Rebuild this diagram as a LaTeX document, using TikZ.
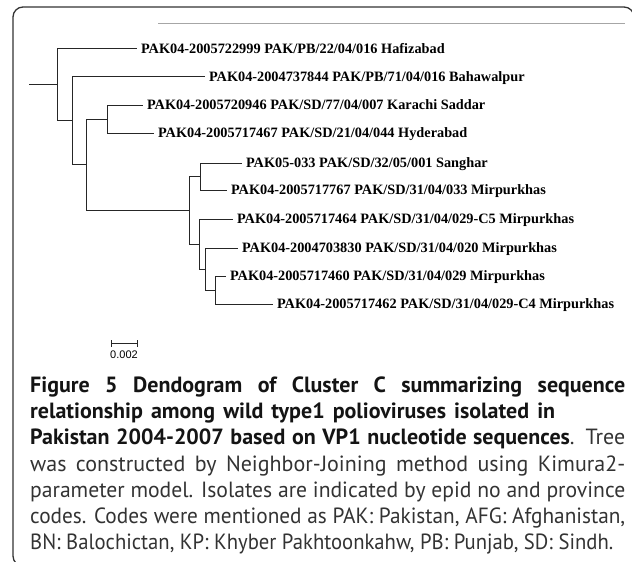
\documentclass[tikz,border=0pt]{standalone}
\usepackage{fontspec}
\usepackage{graphicx}
\setmainfont{Liberation Serif}
\newfontfamily\capfont{PT Sans}
\newfontfamily\barfont{Liberation Sans}
\newsavebox\capbox
\newcommand\fitline[2]{\sbox\capbox{#2}\ifdim\wd\capbox>#1\relax\resizebox{#1}{\height}{\usebox\capbox}\else\makebox[#1][s]{#2}\fi}
\begin{document}
\begin{tikzpicture}[x=1pt,y=-1pt,
  branch/.style={draw=black!85, line width=1pt},
  leaf/.style={anchor=west, inner sep=0pt, outer xsep=4pt, outer ysep=0pt,
    text height=9.5pt, text depth=0pt, text=black,
    font=\bfseries\fontsize{14.3}{16}\selectfont},
  frame/.style={draw=black!80, line width=1.3pt, rounded corners=10pt},
  rule/.style={draw=black!35, line width=1pt},
  capline/.style={anchor=base west, inner sep=0pt, text=black!80,
    font=\capfont\fontsize{22}{26}\selectfont},
  capbold/.style={capline, text=black!92},
  barlabel/.style={inner sep=0pt, font=\barfont\fontsize{11}{12}\selectfont}
]
\useasboundingbox (0,0) rectangle (632,562);
\clip (0,0) rectangle (632,562);

% frame and top rule
\draw[frame] (634,40) -- (634,7) -- (13,7) -- (13,566) -- (40,566);
\coordinate (r1) at (158,23.3);
\coordinate (r2) at (625,23.3);
\draw[rule] (r1) -- (r2);

% internal nodes
\coordinate (root) at (29,84);
\coordinate (A) at (57,84);
\coordinate (B) at (72,120);
\coordinate (C) at (86,164);
\coordinate (D) at (107,119);
\coordinate (E) at (189,210);
\coordinate (F) at (200,176);
\coordinate (G) at (199,244);
\coordinate (H) at (205,269);
\coordinate (I) at (215,290);

% leaves
\node[leaf] (hafiz)   at (137,48.7) {PAK04-2005722999 PAK/PB/22/04/016 Hafizabad};
\node[leaf] (bahawal) at (205,76.7) {PAK04-2004737844 PAK/PB/71/04/016 Bahawalpur};
\node[leaf] (karachi) at (143,105)  {PAK04-2005720946 PAK/SD/77/04/007 Karachi Saddar};
\node[leaf] (hyder)   at (154,133)  {PAK04-2005717467 PAK/SD/21/04/044 Hyderabad};
\node[leaf] (sanghar) at (242,163)  {PAK05-033 PAK/SD/32/05/001 Sanghar};
\node[leaf] (m767)    at (227,190)  {PAK04-2005717767 PAK/SD/31/04/033 Mirpurkhas};
\node[leaf] (c5)      at (233,219)  {PAK04-2005717464 PAK/SD/31/04/029-C5 Mirpurkhas};
\node[leaf] (m830)    at (238,248)  {PAK04-2004703830 PAK/SD/31/04/020 Mirpurkhas};
\node[leaf] (m460)    at (226,276)  {PAK04-2005717460 PAK/SD/31/04/029 Mirpurkhas};
\node[leaf] (c4)      at (273,304)  {PAK04-2005717462 PAK/SD/31/04/029-C4 Mirpurkhas};

% branches
\draw[branch] (root) -- (A);
\draw[branch] (A) |- (hafiz.west);
\draw[branch] (A) |- (B);
\draw[branch] (B) |- (bahawal.west);
\draw[branch] (B) |- (C);
\draw[branch] (C) |- (D);
\draw[branch] (C) |- (E);
\draw[branch] (D) |- (karachi.west);
\draw[branch] (D) |- (hyder.west);
\draw[branch] (E) |- (F);
\draw[branch] (E) |- (G);
\draw[branch] (F) |- (sanghar.west);
\draw[branch] (F) |- (m767.west);
\draw[branch] (G) |- (c5.west);
\draw[branch] (G) |- (H);
\draw[branch] (H) |- (m830.west);
\draw[branch] (H) |- (I);
\draw[branch] (I) |- (m460.west);
\draw[branch] (I) |- (c4.west);

% scale bar
\coordinate (s1) at (111,343);
\coordinate (s2) at (137,343);
\draw[branch, line width=0.8pt] (s1) -- (s2);
\draw[branch, line width=0.8pt] ([yshift=-3.5pt]s1) -- ([yshift=3.5pt]s1);
\draw[branch, line width=0.8pt] ([yshift=-3.5pt]s2) -- ([yshift=3.5pt]s2);
\node[barlabel] (bar) at (124,355) {0.002};

% caption
\node[capbold] (cap1) at (30,392.5) {\fitline{595pt}{\bfseries Figure 5 Dendogram of Cluster C summarizing sequence}};
\node[capbold] (cap2) at (30,418.7) {\fitline{525pt}{\bfseries relationship among wild type1 polioviruses isolated in}};
\node[capline] (cap3) at (30,444.9) {\fitline{595pt}{\textcolor{black!92}{\bfseries Pakistan 2004-2007 based on VP1 nucleotide sequences}. Tree}};
\node[capline] (cap4) at (30,471.1) {\fitline{595pt}{was constructed by Neighbor-Joining method using Kimura2-}};
\node[capline] (cap5) at (30,497.3) {\fitline{595pt}{parameter model. Isolates are indicated by epid no and province}};
\node[capline] (cap6) at (30,523.5) {\fitline{595pt}{codes. Codes were mentioned as PAK: Pakistan, AFG: Afghanistan,}};
\node[capline] (cap7) at (30,549.7) {\fitline{583pt}{BN: Balochictan, KP: Khyber Pakhtoonkahw, PB: Punjab, SD: Sindh.}};
\end{tikzpicture}
\end{document}
